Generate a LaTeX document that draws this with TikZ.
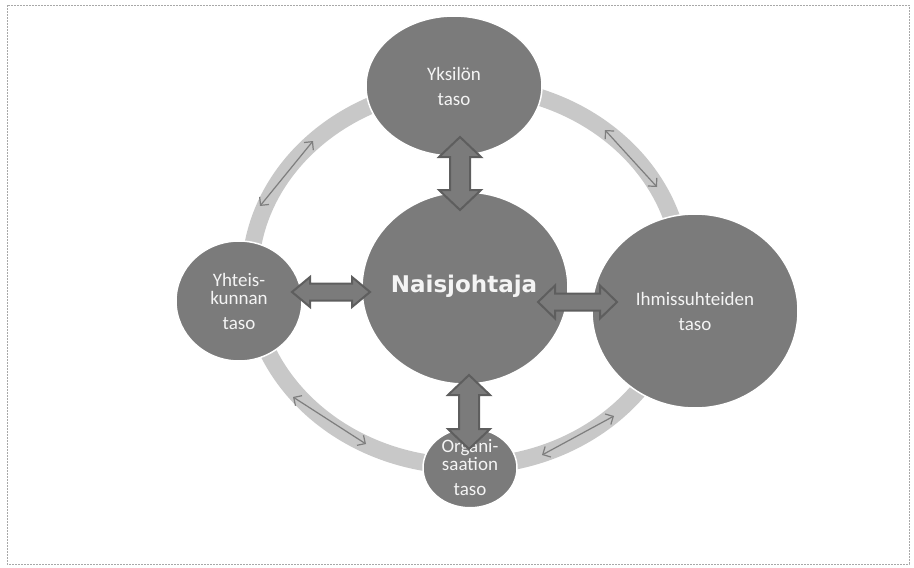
\documentclass[tikz,border=0pt]{standalone}
\usepackage{fontspec}
\setmainfont{Carlito}
\newfontfamily\titlefont{DejaVu Sans}
\usetikzlibrary{arrows.meta,shapes.geometric}
\definecolor{circc}{HTML}{7B7B7B}
\definecolor{ringc}{HTML}{C8C8C8}
\definecolor{thinc}{HTML}{7E7E7E}
\definecolor{arrline}{HTML}{5E5E5E}
\definecolor{txtc}{HTML}{F4F4F4}
\definecolor{framec}{HTML}{A8A8A8}
% vertical block double arrow: x, ytop, ybottom, shaft half, head half, head length
\newcommand\Vblock[6]{%
  \draw[bigarrow] (#1,#2) -- (#1+#5,#2+#6) -- (#1+#4,#2+#6) -- (#1+#4,#3-#6) -- (#1+#5,#3-#6) -- (#1,#3)
     -- (#1-#5,#3-#6) -- (#1-#4,#3-#6) -- (#1-#4,#2+#6) -- (#1-#5,#2+#6) -- cycle;}
% horizontal block double arrow: y, xleft, xright, shaft half, head half, head length
\newcommand\Hblock[6]{%
  \draw[bigarrow] (#2,#1) -- (#2+#6,#1-#5) -- (#2+#6,#1-#4) -- (#3-#6,#1-#4) -- (#3-#6,#1-#5) -- (#3,#1)
     -- (#3-#6,#1+#5) -- (#3-#6,#1+#4) -- (#2+#6,#1+#4) -- (#2+#6,#1+#5) -- cycle;}
\begin{document}
\begin{tikzpicture}[x=1pt,y=-1pt,
  circ/.style={ellipse, fill=circc, draw=white, line width=1.5pt, inner sep=0pt,
     text=txtc, align=center, font=\fontsize{19}{25}\selectfont},
  ring/.style={draw=ringc, line width=17pt},
  thinarr/.style={draw=thinc, line width=1.2pt, {Straight Barb[length=6pt,width=12pt]}-{Straight Barb[length=6pt,width=12pt]}},
  bigarrow/.style={fill=circc, draw=arrline, line width=2pt, line join=miter}]
\useasboundingbox (0,0) rectangle (914,568);
\draw[framec, line width=0.8pt, dash pattern=on 2pt off 1pt] (7,5) rectangle (909,564);

% ring
\draw[ring] (466,276) ellipse [x radius=216, y radius=190];

% thin arrows along the ring
\coordinate (ul1) at (260,206); \coordinate (ul2) at (313,141);
\coordinate (ur1) at (605,130); \coordinate (ur2) at (657,187);
\coordinate (ll1) at (293,397); \coordinate (ll2) at (366,444);
\coordinate (lr1) at (542,455); \coordinate (lr2) at (614,416);
\draw[thinarr] (ul1) -- (ul2);
\draw[thinarr] (ur1) -- (ur2);
\draw[thinarr] (ll1) -- (ll2);
\draw[thinarr] (lr1) -- (lr2);

% circles
\node[circ, minimum width=176pt, minimum height=140pt] (yks) at (454,86) {Yksilön\\taso};
\node[circ, minimum width=206pt, minimum height=192pt] (nais) at (465,288) {};
\node[text=txtc, font=\titlefont\bfseries\fontsize{23}{26}\selectfont] (naist) at (464,286) {Naisjohtaja};
\node[circ, minimum width=206pt, minimum height=194pt] (ihm) at (695,311) {Ihmissuhteiden\\taso};
\node[circ, minimum width=126pt, minimum height=120pt] (yht) at (239,301) {Yhteis-\\[-7pt]kunnan\\taso};
\node[circ, minimum width=94pt, minimum height=72pt] (org) at (470,468) {Organi-\\[-7pt]saation\\taso};

% block double arrows
\Vblock{460}{137}{210}{10}{21}{20}
\Vblock{469}{375}{449}{10}{21}{20}
\Hblock{292}{292}{370}{8.5}{15}{18}
\Hblock{302}{538}{617}{8.5}{16.5}{17}
\end{tikzpicture}
\end{document}
